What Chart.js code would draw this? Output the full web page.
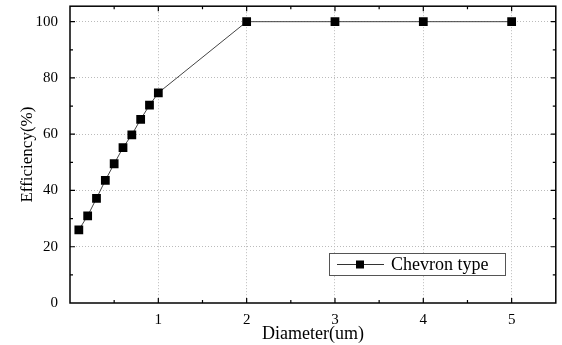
<!DOCTYPE html>
<html>
<head>
<meta charset="utf-8">
<script src="https://cdn.jsdelivr.net/npm/chart.js@4"></script>
<style>
  body { margin: 0; background: #fff; }
  #wrap { width: 562px; height: 345px; }
</style>
</head>
<body>
<div id="wrap"><canvas id="eff-chart"></canvas></div>
<script>
var diameters = [0.1, 0.2, 0.3, 0.4, 0.5, 0.6, 0.7, 0.8, 0.9, 1, 2, 3, 4, 5];
var efficiency = [26, 31, 37.2, 43.6, 49.5, 55.2, 59.8, 65.3, 70.3, 74.7, 100, 100, 100, 100];
var xTicks = [1, 2, 3, 4, 5];
var yTicks = [0, 20, 40, 60, 80, 100];
var seriesName = 'Chevron type';

var serif = '"Liberation Serif", "DejaVu Serif", serif';

// frame, inward ticks and legend box
var framePlugin = {
  id: 'frame',
  afterDraw: function(chart) {
    var ctx = chart.ctx, a = chart.chartArea;
    var xs = chart.scales.x, ys = chart.scales.y;
    ctx.save();
    ctx.strokeStyle = '#000';
    ctx.lineWidth = 1.5;
    ctx.strokeRect(a.left, a.top, a.right - a.left, a.bottom - a.top);
    ctx.lineWidth = 1.2;
    ctx.beginPath();
    for (var v = 0.5; v < 5.5; v += 0.5) {
      var px = xs.getPixelForValue(v);
      var len = (v % 1 === 0) ? 5 : 3;
      ctx.moveTo(px, a.bottom); ctx.lineTo(px, a.bottom - len);
      ctx.moveTo(px, a.top); ctx.lineTo(px, a.top + len);
    }
    for (var w = 10; w <= 100; w += 10) {
      var py = ys.getPixelForValue(w);
      var l2 = (w % 20 === 0) ? 5 : 3;
      ctx.moveTo(a.left, py); ctx.lineTo(a.left + l2, py);
      ctx.moveTo(a.right, py); ctx.lineTo(a.right - l2, py);
    }
    ctx.stroke();

    // legend
    var lx = 329, ly = 253, lw = 176, lh = 22;
    ctx.fillStyle = '#fff';
    ctx.fillRect(lx, ly, lw, lh);
    ctx.strokeStyle = '#555';
    ctx.lineWidth = 1;
    ctx.strokeRect(lx + 0.5, ly + 0.5, lw, lh);
    ctx.strokeStyle = '#333';
    ctx.beginPath();
    ctx.moveTo(lx + 8, ly + lh / 2 + 0.5);
    ctx.lineTo(lx + 55, ly + lh / 2 + 0.5);
    ctx.stroke();
    ctx.fillStyle = '#000';
    ctx.fillRect(lx + 27, ly + lh / 2 - 3.5, 8, 8);
    ctx.font = '18px ' + serif;
    ctx.textBaseline = 'middle';
    ctx.fillText(seriesName, lx + 62, ly + lh / 2 + 1);
    ctx.restore();
  }
};

var ctx = document.getElementById('eff-chart').getContext('2d');
var chart = new Chart(ctx, {
  type: 'line',
  data: {
    datasets: [{
      label: seriesName,
      data: diameters.map(function(d, i) { return { x: d, y: efficiency[i] }; }),
      borderColor: '#444',
      borderWidth: 1,
      pointStyle: 'rect',
      pointRadius: 6.2,
      pointBackgroundColor: '#000',
      pointBorderColor: '#000',
      pointBorderWidth: 0,
      tension: 0
    }]
  },
  options: {
    responsive: true,
    maintainAspectRatio: false,
    animation: false,
    layout: { padding: { top: 5, right: 4, left: 17, bottom: 0 } },
    plugins: { legend: { display: false }, tooltip: { enabled: false } },
    scales: {
      x: {
        type: 'linear',
        min: 0,
        max: 5.5,
        afterBuildTicks: function(s) { s.ticks = xTicks.map(function(v) { return { value: v }; }); },
        afterFit: function(s) { s.height = 42; s.paddingLeft = 0; s.paddingRight = 0; },
        grid: { color: '#bbb', lineWidth: 1, drawTicks: false },
        border: { display: false, dash: [1, 2] },
        ticks: { color: '#000', padding: 8, maxRotation: 0, font: { family: serif, size: 15 } },
        title: { display: true, text: 'Diameter(um)', color: '#000', padding: { top: -4, bottom: 0 }, font: { family: serif, size: 18 } }
      },
      y: {
        min: 0,
        max: 105.5,
        afterBuildTicks: function(s) { s.ticks = yTicks.map(function(v) { return { value: v }; }); },
        afterFit: function(s) { s.width = 53; s.paddingTop = 0; s.paddingBottom = 0; },
        grid: { color: function(c) { return c.tick && c.tick.value === 0 ? 'rgba(0,0,0,0)' : '#bbb'; }, lineWidth: 1, drawTicks: false },
        border: { display: false, dash: [1, 2] },
        ticks: { color: '#000', padding: 12, font: { family: serif, size: 15 } },
        title: { display: true, text: 'Efficiency(%)', color: '#000', padding: { top: 0, bottom: 4 }, font: { family: serif, size: 17 } }
      }
    }
  },
  plugins: [framePlugin]
});
</script>
</body>
</html>
